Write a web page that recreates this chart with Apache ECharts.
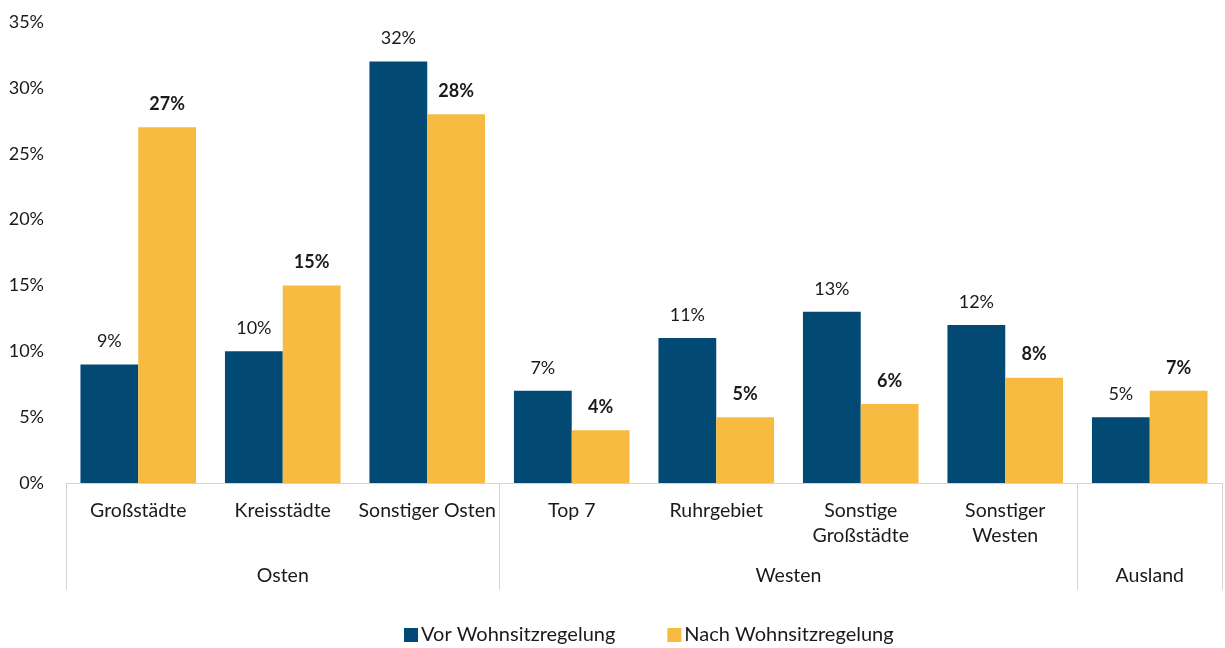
<!DOCTYPE html>
<html>
<head>
<meta charset="utf-8">
<script src="https://cdn.jsdelivr.net/npm/echarts@6/dist/echarts.min.js"></script>
<style>
  html, body { margin: 0; padding: 0; background: #fff; }
  #chart { width: 1225px; height: 648px; }
</style>
</head>
<body>
<div id="chart"></div>
<script>
// Kategorien und Werte (Anteil in %)
const categories = ['Großstädte', 'Kreisstädte', 'Sonstiger Osten', 'Top 7', 'Ruhrgebiet', 'Sonstige\nGroßstädte', 'Sonstiger\nWesten', 'Ausland'];
// Beschriftung unter den Balken (Ausland steht nur als Gruppe da)
const categoryLabels = ['Großstädte', 'Kreisstädte', 'Sonstiger Osten', 'Top 7', 'Ruhrgebiet', 'Sonstige\nGroßstädte', 'Sonstiger\nWesten', ''];
const vorValues = [9, 10, 32, 7, 11, 13, 12, 5];
const nachValues = [27, 15, 28, 4, 5, 6, 8, 7];
const groupNames = ['Osten', 'Westen', 'Ausland'];
const groupSizes = [3, 4, 1];
const seriesNames = ['Vor Wohnsitzregelung', 'Nach Wohnsitzregelung'];

const FONT = 'Lato';
const TEXT = '#1a1a1a';

// Gruppenachse: halbe Kategorien als Punkte, damit Trenner und Mitte auf Ticks liegen
const groupAxisData = [];
const groupTickIdx = [0];
const n = categories.length * 2;
for (let i = 0; i <= n; i++) groupAxisData.push('');
let pos = 0;
groupSizes.forEach((size, gi) => {
  groupAxisData[pos * 2 + size] = groupNames[gi];
  pos += size;
  groupTickIdx.push(pos * 2);
});

const chart = echarts.init(document.getElementById('chart'));

chart.setOption({
  animation: false,
  textStyle: { fontFamily: FONT },
  grid: { left: 66, right: 3, top: 22, bottom: 165 },
  legend: {
    top: 620,
    left: 399,
    itemWidth: 14,
    itemHeight: 14,
    itemGap: 52,
    icon: 'rect',
    textStyle: { fontFamily: FONT, fontSize: 20, color: TEXT, padding: [0, 0, 0, -2] },
    data: seriesNames
  },
  xAxis: [
    {
      type: 'category',
      data: categories,
      axisLine: { lineStyle: { color: '#d4d4d4', width: 1 } },
      axisTick: { show: false },
      axisLabel: {
        interval: 0,
        margin: 15,
        fontFamily: FONT,
        fontSize: 19.5,
        color: TEXT,
        lineHeight: 25,
        formatter: (v, i) => categoryLabels[i]
      }
    },
    {
      type: 'category',
      position: 'bottom',
      boundaryGap: false,
      data: groupAxisData,
      axisLine: { show: false },
      axisTick: {
        show: true,
        length: 107,
        interval: (i) => groupTickIdx.indexOf(i) >= 0,
        lineStyle: { color: '#d4d4d4', width: 1 }
      },
      axisLabel: {
        interval: 0,
        margin: 83,
        fontFamily: FONT,
        fontSize: 19.5,
        color: TEXT
      }
    }
  ],
  yAxis: {
    type: 'value',
    min: 0,
    max: 35,
    interval: 5,
    axisLine: { show: false },
    axisTick: { show: false },
    splitLine: { show: false },
    axisLabel: {
      margin: 22,
      fontFamily: FONT,
      fontSize: 18,
      color: TEXT,
      formatter: '{value}%'
    }
  },
  series: [
    {
      name: seriesNames[0],
      type: 'bar',
      data: vorValues,
      barGap: '0%',
      barCategoryGap: '20%',
      itemStyle: { color: '#024a74' },
      label: {
        show: true,
        position: 'top',
        distance: 14,
        formatter: '{c}%',
        fontFamily: FONT,
        fontSize: 18,
        color: TEXT
      }
    },
    {
      name: seriesNames[1],
      type: 'bar',
      data: nachValues,
      barGap: '0%',
      barCategoryGap: '20%',
      itemStyle: { color: '#f6bb40' },
      label: {
        show: true,
        position: 'top',
        distance: 14,
        formatter: '{c}%',
        fontFamily: FONT,
        fontSize: 18,
        fontWeight: 'bold',
        color: TEXT
      }
    }
  ]
});
</script>
</body>
</html>
